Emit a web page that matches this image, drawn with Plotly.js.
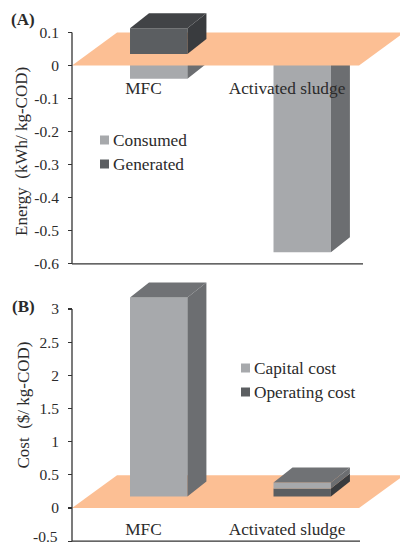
<!DOCTYPE html>
<html><head><meta charset="utf-8">
<script src="https://cdn.plot.ly/plotly-3.0.1.min.js"></script>
<style>html,body{margin:0;padding:0;background:#fff}#c{width:400px;height:546px}</style>
</head><body><div id="c"></div>
<script>
var categories = ['MFC', 'Activated sludge'];
var consumed = [-0.075, -0.6];
var generated = [0.078, 0];
var capitalCost = [3.0, 0.09];
var operatingCost = [0, 0.12];
var energyTicks = [0.1, 0, -0.1, -0.2, -0.3, -0.4, -0.5, -0.6];
var costTicks = [3, 2.5, 2, 1.5, 1, 0.5, 0, -0.5];

var W = 400, H = 546, FONT = '"Liberation Serif", serif', TXT = '#2b2b2b', AXC = '#333';
var C = {light:'#a7a9ac', lightSide:'#6c6e71', lightTop:'#707275',
         dark:'#5b5e61', darkSide:'#393b3e', darkTop:'#414346', floor:'#fcbf94'};
var pxX = 143.5, x0Px = 143.5;
var pxA = 330.5, zeroA = 65.5, pxB = 66.33, zeroB = 508;
var barW = 0.4, barOff = -0.094;
var dX = 19 / pxX, floorDX = 45 / pxX, floorL = -0.498, floorR = 1.502;
var liftPx = 11.5, depthPx = 15;

function rightEdge(i){ return i + barOff + barW; }
function leftEdge(i){ return i + barOff; }
function poly(name, color, xa, ya, xs, ys){
  return {type:'scatter', mode:'lines', name:name, x:xs, y:ys, xaxis:xa, yaxis:ya, fill:'toself',
    fillcolor:color, line:{width:0, color:color}, hoverinfo:'skip', showlegend:false};
}
function sideFace(name,color,xa,ya,idx,lo,hi,dy){
  var xs=[],ys=[];
  idx.forEach(function(i,k){ var r=rightEdge(i);
    xs.push(r,r+dX,r+dX,r,r,null); ys.push(lo[k],lo[k]+dy,hi[k]+dy,hi[k],lo[k],null); });
  return poly(name,color,xa,ya,xs,ys);
}
function topFace(name,color,xa,ya,idx,hi,dy){
  var xs=[],ys=[];
  idx.forEach(function(i,k){ var r=rightEdge(i),l=leftEdge(i);
    xs.push(l,r,r+dX,l+dX,l,null); ys.push(hi[k],hi[k],hi[k]+dy,hi[k]+dy,hi[k],null); });
  return poly(name,color,xa,ya,xs,ys);
}
function bar(name,color,xa,ya,xv,vals,bases){
  return {type:'bar', name:name, x:xv, y:vals, base:bases, width:barW, offset:barOff,
    xaxis:xa, yaxis:ya, marker:{color:color,line:{width:0}}, showlegend:false, hoverinfo:'name+y'};
}
function floorTrace(xa,ya,dy){
  return poly('floor',C.floor,xa,ya,[floorL,floorR,floorR+floorDX,floorL+floorDX,floorL],[0,0,dy,dy,0]);
}

// Panel A
var liftA = liftPx/pxA, dyA = depthPx/pxA;
var traces = [];
var consumedBase=[liftA,liftA], consumedLow=consumed.map(function(v){return v+liftA;});
traces.push(bar('Consumed',C.light,'x','y',[0,1],consumed,consumedBase));
traces.push(sideFace('Consumed side',C.lightSide,'x','y',[0,1],consumedLow,consumedBase,dyA));
traces.push(floorTrace('x','y',0.1));
var genHi=[generated[0]+liftA];
traces.push(bar('Generated',C.dark,'x2','y2',[0],[generated[0]],[liftA]));
traces.push(sideFace('Generated side',C.darkSide,'x2','y2',[0],[liftA],genHi,dyA));
traces.push(topFace('Generated top',C.darkTop,'x2','y2',[0],genHi,dyA));

// Panel B
var liftB = liftPx/pxB, dyB = depthPx/pxB;
traces.push(floorTrace('x3','y3',0.493));
var opHi=operatingCost.map(function(v){return v+liftB;});
var capHi=capitalCost.map(function(v,i){return v+opHi[i];});
traces.push(bar('Operating cost',C.dark,'x4','y4',[0,1],operatingCost,[liftB,liftB]));
traces.push(bar('Capital cost',C.light,'x4','y4',[0,1],capitalCost,opHi));
traces.push(sideFace('Operating side',C.darkSide,'x4','y4',[1],[liftB],[opHi[1]],dyB));
traces.push(sideFace('Capital side',C.lightSide,'x4','y4',[0,1],opHi,capHi,dyB));
traces.push(topFace('Capital top',C.lightTop,'x4','y4',[0,1],capHi,dyB));

function px2x(p){ return (p-x0Px)/pxX; }
function pyPaper(p){ return 1-p/H; }
var tickFont={family:FONT,size:15.5,color:TXT};
function labelAxis(range,dom,pos){
  return {domain:dom, range:range, anchor:'free', position:pos, side:'bottom', showline:false, showgrid:false, zeroline:false,
    tickmode:'array', tickvals:[0,1], ticktext:categories, ticks:'', tickfont:{family:FONT,size:17.3,color:TXT}, fixedrange:true};
}
function hiddenAxis(range,dom,over,anchor){
  return {domain:dom, range:range, overlaying:over, anchor:anchor, visible:false, fixedrange:true};
}
function valAxis(range,dom,vals,text){
  return {domain:dom, range:range, anchor:'free', position:72/W, showline:false, ticks:'outside', ticklen:4, ticklabelstandoff:6,
    tickcolor:AXC, tickwidth:1.3, tickmode:'array', tickvals:vals, ticktext:text, tickfont:tickFont, showgrid:false, zeroline:false, fixedrange:true};
}
function axisLines(xa,ya,yLow,yHigh,xEnd){
  var ln={color:AXC,width:1.3};
  return [
    {type:'line',xref:xa,yref:ya,x0:px2x(72),x1:px2x(72),y0:yLow,y1:yHigh,line:ln,layer:'above'},
    {type:'line',xref:xa,yref:ya,x0:px2x(72),x1:px2x(xEnd),y0:yLow,y1:yLow,line:ln,layer:'above'}
  ];
}
var domX=[70/W,1], rX=[px2x(70),px2x(400)];
var domYA=[pyPaper(266),pyPaper(5)], rYA=[(zeroA-266)/pxA,(zeroA-5)/pxA];
var domYB=[pyPaper(544),pyPaper(275)], rYB=[(zeroB-544)/pxB,(zeroB-275)/pxB];

function legendRow(xText,yc,label,color){
  return {ann:{xref:'paper',yref:'paper',x:xText/W,y:pyPaper(yc),xanchor:'left',yanchor:'middle',text:label,showarrow:false,
      xshift:-2,font:{family:FONT,size:17.3,color:TXT}},
    shp:{type:'rect',xref:'paper',yref:'paper',x0:(xText-13)/W,x1:(xText-4)/W,y0:pyPaper(yc+4.5),y1:pyPaper(yc-4.5),
      fillcolor:color,line:{width:0}}};
}
var legendRows=[legendRow(113,140,'Consumed',C.light),legendRow(113,164,'Generated',C.dark),
  legendRow(254,368,'Capital cost',C.light),legendRow(254,392,'Operating cost',C.dark)];

function txt(x,y,text,opts){
  var a={xref:'paper',yref:'paper',x:x/W,y:pyPaper(y),text:text,showarrow:false,xanchor:'center',yanchor:'middle',
    font:{family:FONT,size:17,color:TXT}};
  for(var k in opts)a[k]=opts[k];
  return a;
}
var layout={
  width:W,height:H,margin:{l:0,r:0,t:0,b:0},paper_bgcolor:'#fff',plot_bgcolor:'rgba(0,0,0,0)',
  barmode:'overlay',showlegend:false,
  xaxis:labelAxis(rX,domX,pyPaper(75.5)),
  xaxis2:hiddenAxis(rX,domX,'x','y2'),
  yaxis:valAxis(rYA,domYA,energyTicks,energyTicks.map(String)),
  yaxis2:hiddenAxis(rYA,domYA,'y','x2'),
  xaxis3:labelAxis(rX,domX,pyPaper(517)),
  xaxis4:hiddenAxis(rX,domX,'x3','y4'),
  yaxis3:valAxis(rYB,domYB,costTicks,costTicks.map(function(v){return v===-0.5?'':String(v);})),
  yaxis4:hiddenAxis(rYB,domYB,'y3','x4'),
  annotations:[
    txt(23,20,'<b>(A)</b>',{}),
    txt(23,306,'<b>(B)</b>',{}),
    txt(21,152,'Energy  (kWh/ kg-COD)',{textangle:-90}),
    txt(23,405.5,'Cost  ($/ kg-COD)',{textangle:-90}),
    txt(60,536.5,String(costTicks[7]),{xanchor:'right',font:tickFont})
  ].concat(legendRows.map(function(r){return r.ann;})),
  shapes:legendRows.map(function(r){return r.shp;})
    .concat(axisLines('x','y',-0.6,0.1,363))
    .concat(axisLines('x3','y3',-0.5,3,360))
};
Plotly.newPlot('c',traces,layout,{staticPlot:true,displayModeBar:false});
</script></body></html>
